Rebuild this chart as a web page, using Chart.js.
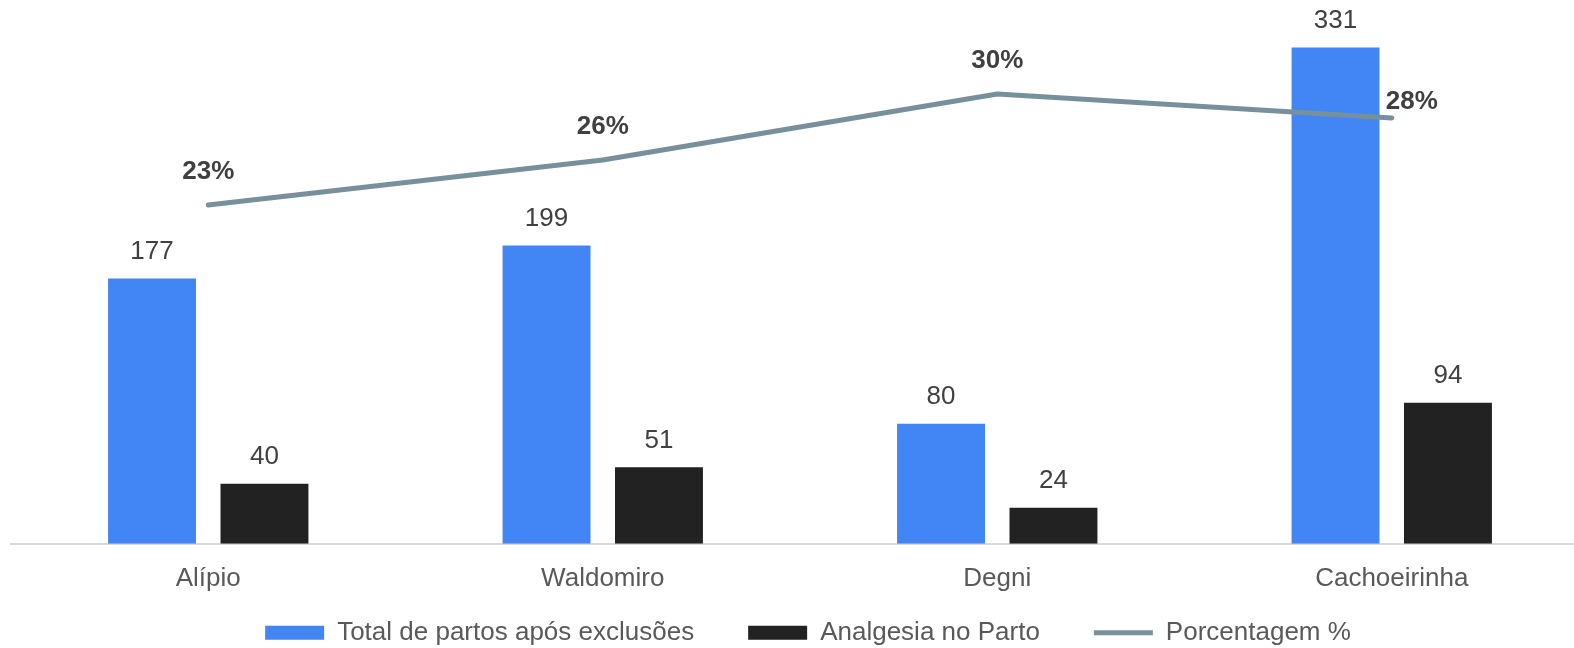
<!DOCTYPE html>
<html>
<head>
<meta charset="utf-8">
<script src="https://cdn.jsdelivr.net/npm/chart.js@4/dist/chart.umd.min.js"></script>
<style>
  html, body { margin: 0; padding: 0; background: #ffffff; overflow: hidden; }
  #wrap { position: relative; width: 1606px; height: 703px; }
</style>
</head>
<body>
<div id="wrap"><canvas id="c"></canvas></div>
<script>
// ---- data ----
const categories = ['Alípio', 'Waldomiro', 'Degni', 'Cachoeirinha'];
const totalPartos = [177, 199, 80, 331];
const analgesia = [40, 51, 24, 94];
const porcentagem = [22.6, 25.6, 30.0, 28.4];
const seriesNames = ['Total de partos após exclusões', 'Analgesia no Parto', 'Porcentagem %'];

const FONT = "'Liberation Sans', Arial, sans-serif";

const labelPlugin = {
  id: 'valueLabels',
  afterLayout(chart, args, opts) {
    // place the legend row just below the category labels
    const lg = chart.legend;
    if (lg) {
      const h = lg.bottom - lg.top;
      lg.top = chart.scales.x.top + opts.legendGap;
      lg.bottom = lg.top + h;
    }
  },
  afterDatasetsDraw(chart, args, opts) {
    const ctx = chart.ctx;
    ctx.save();
    ctx.textAlign = 'center';
    ctx.textBaseline = 'middle';
    chart.data.datasets.forEach((ds, di) => {
      const meta = chart.getDatasetMeta(di);
      if (ds.type === 'line') {
        ctx.font = 'bold 26px ' + FONT;
        ctx.fillStyle = '#404040';
        meta.data.forEach((pt, i) => {
          const off = opts.pctOffsets[i];
          ctx.fillText(Math.round(ds.data[i]) + '%', pt.x + off[0], pt.y + off[1]);
        });
      } else {
        ctx.font = '26px ' + FONT;
        ctx.fillStyle = '#404040';
        meta.data.forEach((bar, i) => {
          ctx.fillText(String(ds.data[i]), bar.x, bar.y - 27);
        });
      }
    });
    ctx.restore();
  }
};

new Chart(document.getElementById('c'), {
  data: {
    labels: categories,
    datasets: [
      {
        type: 'bar', label: seriesNames[0], data: totalPartos,
        backgroundColor: '#4285F4', borderWidth: 0, pointStyle: 'rect',
        categoryPercentage: 0.57, barPercentage: 0.782, order: 1, yAxisID: 'y'
      },
      {
        type: 'bar', label: seriesNames[1], data: analgesia,
        backgroundColor: '#222222', borderWidth: 0, pointStyle: 'rect',
        categoryPercentage: 0.57, barPercentage: 0.782, order: 1, yAxisID: 'y'
      },
      {
        type: 'line', label: seriesNames[2], data: porcentagem,
        borderColor: '#78909C', backgroundColor: '#78909C', borderWidth: 5,
        borderCapStyle: 'round', borderJoinStyle: 'round',
        pointRadius: 0, pointHoverRadius: 0, pointStyle: 'line', tension: 0,
        order: 0, yAxisID: 'y2'
      }
    ]
  },
  options: {
    responsive: true,
    maintainAspectRatio: false,
    animation: false,
    events: [],
    layout: { padding: { top: 4, left: 11, right: 1, bottom: 0 } },
    scales: {
      x: {
        grid: { display: false, drawTicks: false },
        border: { display: true, color: '#D9D9D9', width: 2 },
        ticks: { color: '#595959', font: { family: FONT, size: 26 }, padding: 19 }
      },
      y: { display: false, min: 0, max: 360 },
      y2: {
        display: true, position: 'right', min: 0, max: 36,
        grid: { display: false, drawTicks: false },
        border: { display: false },
        ticks: { display: false },
        afterFit(axis) { axis.width = 16; }
      }
    },
    plugins: {
      legend: {
        position: 'bottom',
        labels: {
          usePointStyle: true, pointStyleWidth: 59, boxHeight: 14,
          color: '#595959', font: { family: FONT, size: 26 }, padding: 54,
          sort: (a, b) => a.datasetIndex - b.datasetIndex
        }
      },
      tooltip: { enabled: false },
      valueLabels: { legendGap: 22, pctOffsets: [[0, -33], [0, -33], [0, -33], [20, -16]] }
    }
  },
  plugins: [labelPlugin]
});
</script>
</body>
</html>
